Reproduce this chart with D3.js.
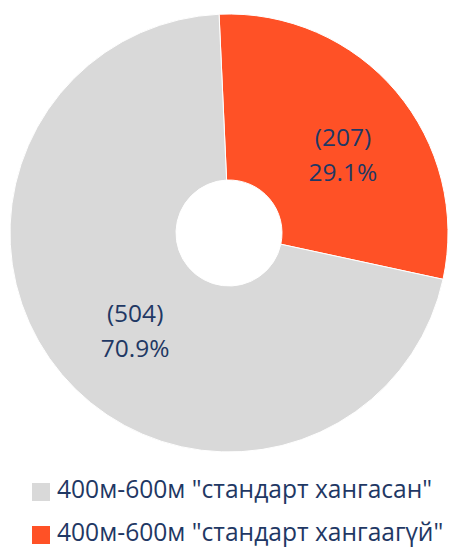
<!DOCTYPE html>
<html><head><meta charset="utf-8">
<script src="https://cdn.jsdelivr.net/npm/d3@7"></script>
<style>body{margin:0;background:#fff}svg{display:block}</style>
</head><body>
<svg id="c" width="457" height="547"></svg>
<script>
const categories = ['400м-600м "стандарт хангаагүй"', '400м-600м "стандарт хангасан"'];
const counts = [207, 504];
const percents = ["29.1%", "70.9%"];
const colors = ["#FF5126", "#D9D9D9"];
const legendOrder = [1, 0];

const svg = d3.select("#c");
const cx = 229, cy = 233, R = 219, r0 = 53;
const rot = -2.6 * Math.PI / 180;
const pie = d3.pie().sort(null).startAngle(rot).endAngle(rot + 2 * Math.PI);
const arcs = pie(counts);
const arc = d3.arc().innerRadius(r0).outerRadius(R);
const labelArc = d3.arc().innerRadius(136).outerRadius(136);
const g = svg.append("g").attr("transform", `translate(${cx},${cy})`);
g.selectAll("path").data(arcs).join("path")
  .attr("d", arc).attr("fill", (d, i) => colors[i])
  .attr("stroke", "#fff").attr("stroke-width", 1);

const font = "Open Sans, sans-serif";
const lab = g.selectAll("text.l").data(arcs).join("text").attr("class", "l")
  .attr("transform", d => { const c = labelArc.centroid(d); return `translate(${c[0] + 10},${c[1] + 10})`; })
  .attr("text-anchor", "middle").attr("fill", "#1F3864")
  .attr("font-family", font).attr("font-size", 24.5);
lab.append("tspan").attr("x", 0).attr("y", -9).text((d, i) => `(${counts[i]})`);
lab.append("tspan").attr("x", 0).attr("y", 26).text((d, i) => percents[i]);

const leg = svg.append("g");
legendOrder.forEach((k, j) => {
  const y = 483 + j * 43;
  leg.append("rect").attr("x", 32).attr("y", y).attr("width", 18).attr("height", 18).attr("fill", colors[k]);
  leg.append("text").attr("x", 57).attr("y", y + 15).attr("fill", "#1F3864")
    .attr("font-family", font).attr("font-size", 24.6).text(categories[k]);
});
</script>
</body></html>
